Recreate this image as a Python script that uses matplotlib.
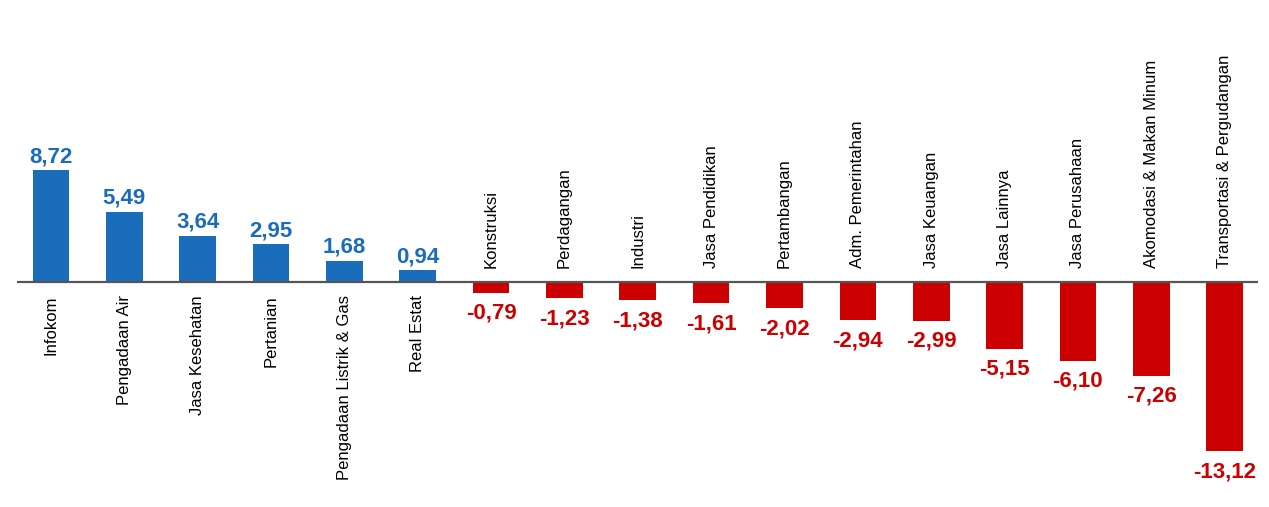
import matplotlib
matplotlib.use("Agg")
import matplotlib.pyplot as plt

categories = ["Infokom", "Pengadaan Air", "Jasa Kesehatan", "Pertanian",
              "Pengadaan Listrik & Gas", "Real Estat", "Konstruksi", "Perdagangan",
              "Industri", "Jasa Pendidikan", "Pertambangan", "Adm. Pemerintahan",
              "Jasa Keuangan", "Jasa Lainnya", "Jasa Perusahaan",
              "Akomodasi & Makan Minum", "Transportasi & Pergudangan"]
values = [8.72, 5.49, 3.64, 2.95, 1.68, 0.94, -0.79, -1.23, -1.38, -1.61,
          -2.02, -2.94, -2.99, -5.15, -6.10, -7.26, -13.12]

BLUE = "#1a6dbb"
RED = "#cc0000"
FONT = ["Liberation Sans Narrow", "Liberation Sans", "DejaVu Sans"]

fig = plt.figure(figsize=(12.69, 5.07), dpi=100)
ax = fig.add_axes([0, 0, 1, 1])
ax.set_xlim(-0.695, 16.605)
ax.set_ylim(-17.45, 21.95)
ax.axis("off")

x = list(range(len(categories)))
colors = [BLUE if v >= 0 else RED for v in values]
ax.bar(x, values, width=0.5, color=colors, zorder=2)
ax.hlines(0, -0.47, 16.45, color="#555555", linewidth=1.6, zorder=3)

for xi, v, c, name in zip(x, values, colors, categories):
    lab = f"{v:.2f}".replace(".", ",")
    if v >= 0:
        ax.annotate(lab, (xi, v), xytext=(0, 3), textcoords="offset pixels",
                    ha="center", va="bottom", color=c, fontsize=16,
                    fontweight="bold", family=FONT)
        ax.annotate(name, (xi, 0), xytext=(0, -13), textcoords="offset pixels",
                    ha="center", va="top", rotation=90, color="black",
                    fontsize=12, family=FONT)
    else:
        ax.annotate(lab, (xi, v), xytext=(0, -10), textcoords="offset pixels",
                    ha="center", va="top", color=c, fontsize=16,
                    fontweight="bold", family=FONT)
        ax.annotate(name, (xi, 0), xytext=(0, 14), textcoords="offset pixels",
                    ha="center", va="bottom", rotation=90, color="black",
                    fontsize=12, family=FONT)

fig.savefig("out.png", dpi=100)
